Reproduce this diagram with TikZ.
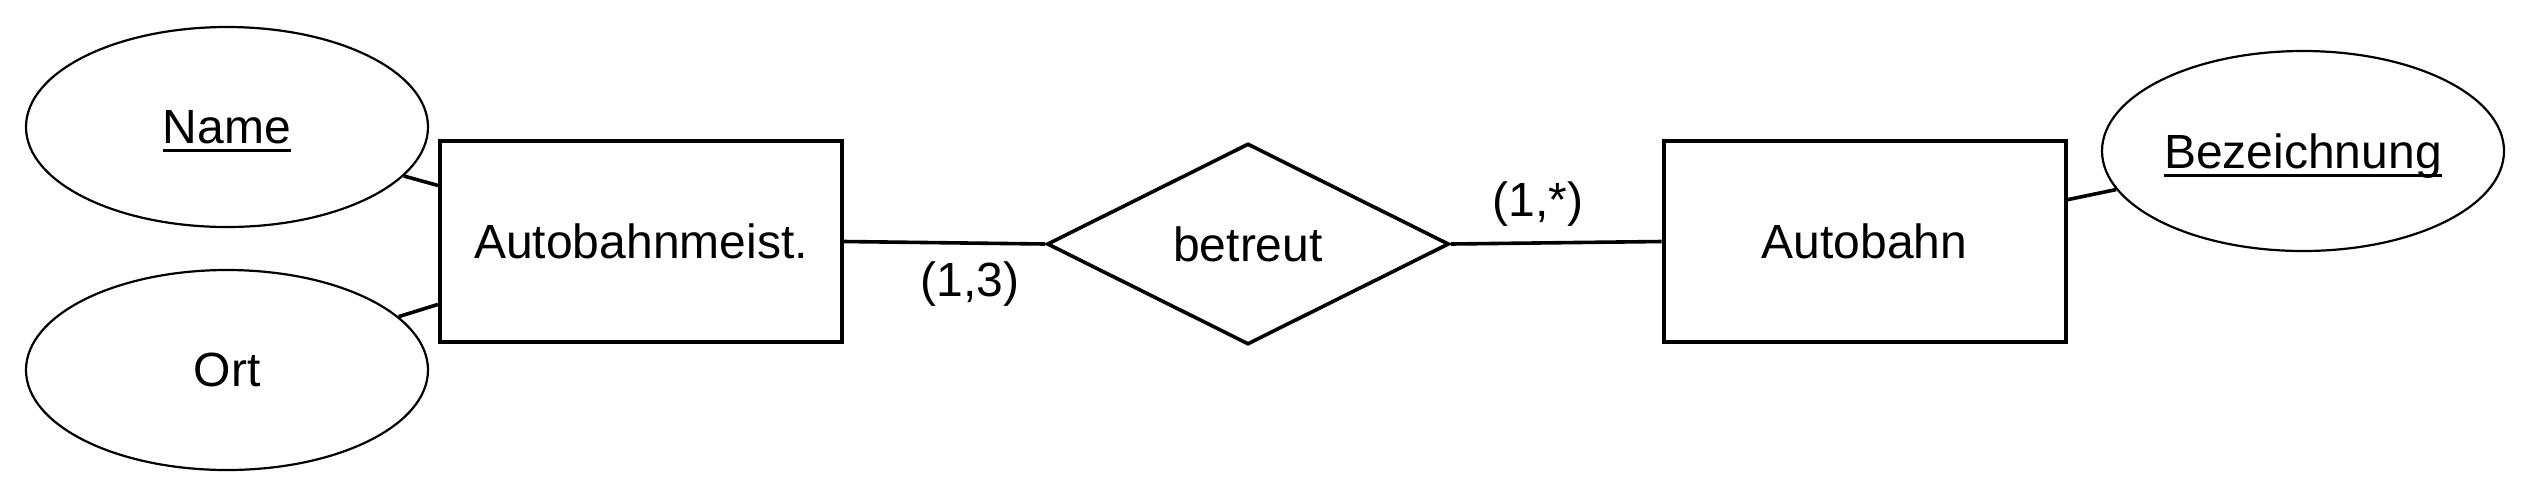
\documentclass[tikz,border=0pt]{standalone}
\usepackage{fontspec}
\setmainfont{Liberation Sans}
\usetikzlibrary{shapes.geometric}
\newsavebox\keyulbox
\newcommand{\keyattr}[1]{\sbox\keyulbox{#1}\rlap{\smash{\rule[-4.2pt]{\wd\keyulbox}{1.5pt}}}\usebox\keyulbox}
\begin{document}
\begin{tikzpicture}[x=0.5pt,y=-0.5pt,
  entity/.style={draw, line width=2pt, minimum width=201pt, minimum height=100.5pt, inner sep=0pt},
  attr/.style={ellipse, draw, line width=1.1pt, minimum width=201pt, minimum height=100pt, inner sep=0pt, text depth=0pt},
  rel/.style={diamond, draw, line width=1.8pt, minimum width=201pt, minimum height=100.5pt, inner sep=0pt},
  conn/.style={line width=1.8pt},
  card/.style={inner sep=0pt},
  font=\fontsize{24}{28}\selectfont]
\useasboundingbox (0,0) rectangle (2532,500);
\node[attr] (name) at (227,127) {\keyattr{Name}};
\node[attr] (ort) at (227,370) {Ort};
\node[entity] (abm) at (641,241.5) {Autobahnmeist.};
\node[rel] (bet) at (1248,244) {betreut};
\node[entity] (ab) at (1864.5,241.5) {Autobahn};
\node[attr] (bez) at (2303,151) {\keyattr{Bezeichnung}};
\draw[conn] (name) -- (abm);
\draw[conn] (ort) -- (abm);
\draw[conn] (ab) -- (bez);
\draw[conn] (abm.east) -- (bet.west);
\draw[conn] (bet.east) -- (ab.west);
\node[card] (c13) at (970,284) {(1,3)};
\node[card] (c1s) at (1538,204) {(1,*)};
\end{tikzpicture}
\end{document}
